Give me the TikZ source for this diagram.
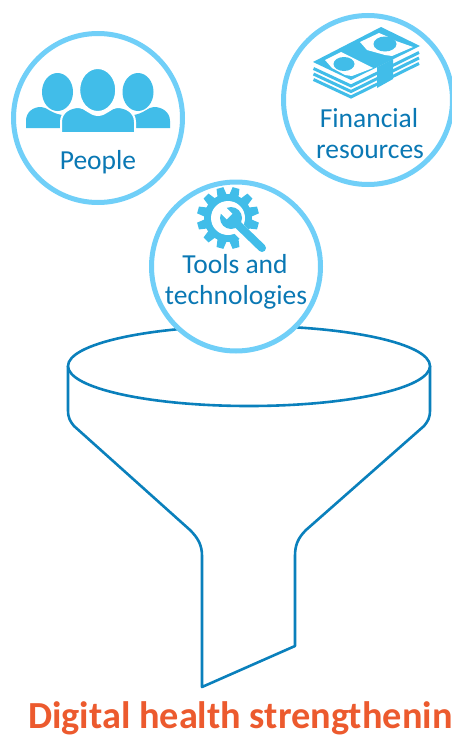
\documentclass[tikz,border=0pt]{standalone}
\usepackage{xcolor}
\usepackage{fontspec}
\setmainfont{Carlito}
\usetikzlibrary{arrows,shapes,calc,positioning}
\definecolor{ringblue}{HTML}{70CFF8}
\definecolor{iconblue}{HTML}{41BDE9}
\definecolor{textblue}{HTML}{0A78B4}
\definecolor{funnelblue}{HTML}{0A80BC}
\definecolor{titleorange}{HTML}{EC5A2E}
\begin{document}
\begin{tikzpicture}[x=1pt,y=-1pt,
		ring/.style={circle,draw=ringblue,line width=5pt,fill=white,minimum size=169pt,inner sep=0pt},
		label/.style={anchor=base,font=\fontsize{27.5}{30}\selectfont,text=textblue,inner sep=0pt},
		funnel/.style={draw=funnelblue,line width=2.6pt,line join=round},
		icon/.style={fill=iconblue,draw=none},
		halo/.style={fill=iconblue,draw=white,line width=2pt}]
	\useasboundingbox (0,0) rectangle (452,736);
	% funnel
	\draw [funnel,fill=white] (68,366) -- (68,410) .. controls (68,418) and (70,421) .. (74,426) -- (190,530) .. controls (198,538) and (202,545) .. (202,556) -- (202,687) -- (295,646) -- (295,556) .. controls (295,545) and (298,538) .. (306,530) -- (424,426) .. controls (428,421) and (430,418) .. (430,410) -- (430,366);
	\node (rim) [ellipse,funnel,fill=white,minimum width=362pt,minimum height=80pt,inner sep=0pt] at (249,366) {};
	% circles
	\node (people) [ring] at (98,118) {};
	\node (money) [ring] at (368,100) {};
	\node (tools) [ring] at (236,266.5) {};
	% people icon
	\fill [icon] (26,128) -- (26,121) .. controls (26,112) and (33,107) .. (41,107) .. controls (47,107) and (50,113) .. (62,115) -- (62,128) -- cycle;
	\fill [icon] (170,128) -- (170,121) .. controls (170,112) and (162,107) .. (154,107) .. controls (148,107) and (145,113) .. (134,115) -- (134,128) -- cycle;
	\fill [icon] (57.5,92) ellipse [x radius=15.5pt,y radius=19pt];
	\fill [icon] (138,92) ellipse [x radius=15.5pt,y radius=19pt];
	\draw [halo] (97.7,90) ellipse [x radius=18.5pt,y radius=22pt];
	\draw [halo] (61,133) -- (61,122) .. controls (61,112) and (70,107) .. (79,107) .. controls (85,107) and (90,115) .. (98,115) .. controls (106,115) and (111,107) .. (117,107) .. controls (126,107) and (135,112) .. (135,122) -- (135,133) -- cycle;
	\node (peoplelabel) [label] at (98,169) {People};
	% money icon
	\foreach \dy in {6,11.5,17}
		\draw [iconblue,line width=3pt] (313.5,{62.5+\dy}) -- (351,{80+\dy}) -- (419,{46.5+\dy});
	\fill [icon] (313,62) -- (381,27) -- (420,46) -- (351,80) -- cycle;
	\fill [icon] (377,67) -- (393,59) -- (393,79) -- (377,88) -- cycle;
	\fill [white] (325,60) -- (341,52) -- (373,68) -- (352,76) -- (345,75) -- (332,68) -- cycle;
	\fill [white] (360,42) -- (379,33) -- (386,36) -- (396,41) -- (413,47) -- (392,56) -- (385,55) -- (367,50) -- cycle;
	\fill [icon] (344,64) ellipse [x radius=10.5pt,y radius=7pt];
	\fill [icon] (385,44) ellipse [x radius=11.5pt,y radius=7.5pt];
	\node (moneylabel1) [label] at (369,127) {Financial};
	\node (moneylabel2) [label] at (370,158) {resources};
	% gear icon
	\foreach \a in {0,30,...,330}
		\fill [icon,rotate around={\a+15:(228,218)}] (224.5,187) -- (231.5,187) -- (233,197) -- (223,197) -- cycle;
	\fill [icon] (228,218) circle (24pt);
	\fill [white] (228,218) circle (17pt);
	% wrench
	\draw [white,line width=13pt] (238,228) -- (266,256);
	\draw [iconblue,line width=8pt,line cap=round] (232,219) -- (262,248);
	\fill [icon] (231,218) circle (11pt);
	\fill [white] (229.6,216.6) -- (232.4,213.8) -- (222.4,203.8) -- (216.8,209.4) -- (226.8,219.4) -- cycle;
	\node (toolslabel1) [label] at (235,273) {Tools and};
	\node (toolslabel2) [label] at (236,304) {technologies};
	% title
	\node (title) [anchor=base west,inner sep=0pt,font=\fontsize{38.3}{40}\selectfont\bfseries,text=titleorange] at (28,728.5) {Digital health strengthenin};
\end{tikzpicture}
\end{document}
